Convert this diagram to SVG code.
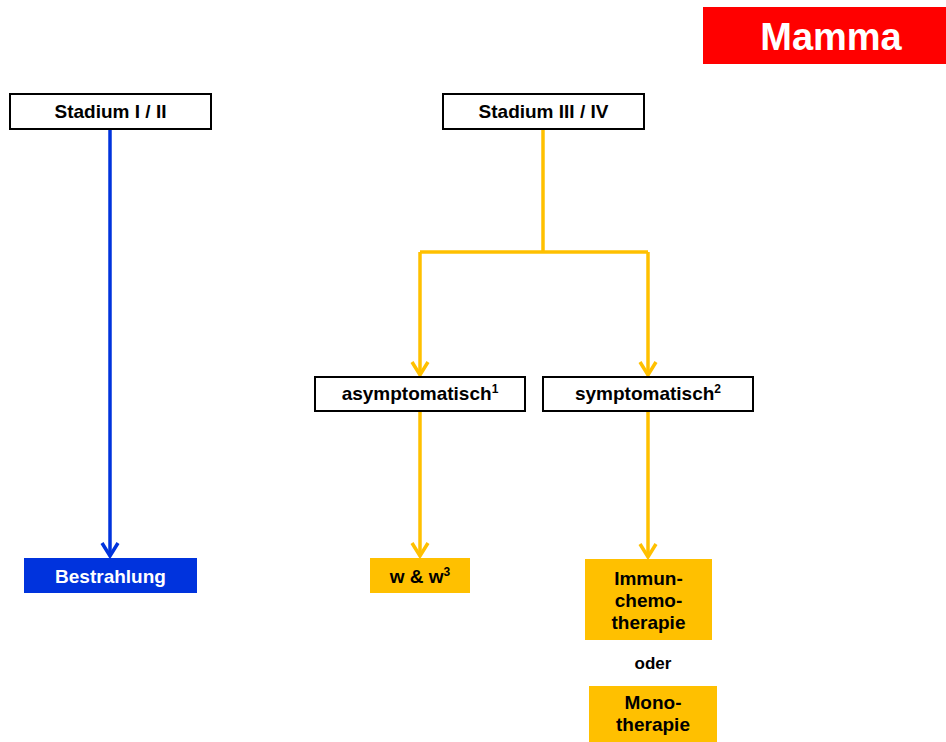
<svg xmlns="http://www.w3.org/2000/svg" width="946" height="742" viewBox="0 0 946 742">
<style>
.t{font-family:"Liberation Sans",Arial,sans-serif;font-weight:bold;font-size:19px;text-anchor:middle;fill:#000}
.w{fill:#fff}
.box{fill:#fff;stroke:#000;stroke-width:2}
.y{fill:#FFC000}
.b{fill:#0033DD}
.cy{fill:none;stroke:#FFC000;stroke-width:3.5}
.cb{fill:none;stroke:#0033DD;stroke-width:3.5}
.sup{font-size:12px}
</style>
<defs>
<marker id="ay" markerUnits="userSpaceOnUse" markerWidth="20" markerHeight="20" refX="16" refY="10" orient="auto" viewBox="0 0 20 20">
<path d="M3,2 L16,10 L3,18" fill="none" stroke="#FFC000" stroke-width="3.5"/>
</marker>
<marker id="ab" markerUnits="userSpaceOnUse" markerWidth="20" markerHeight="20" refX="16" refY="10" orient="auto" viewBox="0 0 20 20">
<path d="M3,2 L16,10 L3,18" fill="none" stroke="#0033DD" stroke-width="3.5"/>
</marker>
</defs>
<rect width="946" height="742" fill="#fff"/>
<g id="title">
<rect x="703" y="7" width="243" height="57" fill="#FF0000"/>
<text x="831" y="50" class="t w" style="font-size:38px">Mamma</text>
</g>
<g id="connectors">
<path class="cb" d="M110,129 V556" marker-end="url(#ab)"/>
<path class="cy" d="M543,129 V252"/>
<path class="cy" d="M420,252 H648"/>
<path class="cy" d="M420,252 V375" marker-end="url(#ay)"/>
<path class="cy" d="M648,252 V375" marker-end="url(#ay)"/>
<path class="cy" d="M420,411 V556" marker-end="url(#ay)"/>
<path class="cy" d="M648,411 V557" marker-end="url(#ay)"/>
</g>
<g id="stadium12">
<rect class="box" x="10" y="94" width="201" height="35"/>
<text class="t" x="110.5" y="118">Stadium I / II</text>
</g>
<g id="stadium34">
<rect class="box" x="443" y="94" width="201" height="35"/>
<text class="t" x="543.5" y="118">Stadium III / IV</text>
</g>
<g id="asymptomatisch">
<rect class="box" x="315" y="377" width="210" height="34"/>
<text class="t" x="420" y="400">asymptomatisch<tspan class="sup" dy="-7">1</tspan></text>
</g>
<g id="symptomatisch">
<rect class="box" x="543" y="377" width="210" height="34"/>
<text class="t" x="648" y="400">symptomatisch<tspan class="sup" dy="-7">2</tspan></text>
</g>
<g id="bestrahlung">
<rect class="b" x="24" y="558" width="173" height="35"/>
<text class="t w" x="110.5" y="583">Bestrahlung</text>
</g>
<g id="ww">
<rect class="y" x="370" y="558" width="100" height="35"/>
<text class="t" x="420" y="583">w &amp; w<tspan class="sup" dy="-7">3</tspan></text>
</g>
<g id="immunchemo">
<rect class="y" x="585" y="559" width="127" height="81"/>
<text class="t" x="648.5" y="585">Immun-</text>
<text class="t" x="648.5" y="607">chemo-</text>
<text class="t" x="648.5" y="629">therapie</text>
</g>
<g id="oder">
<text class="t" x="653" y="669" style="font-size:17px">oder</text>
</g>
<g id="mono">
<rect class="y" x="589" y="686" width="128" height="60"/>
<text class="t" x="653" y="709">Mono-</text>
<text class="t" x="653" y="731">therapie</text>
</g>
</svg>
